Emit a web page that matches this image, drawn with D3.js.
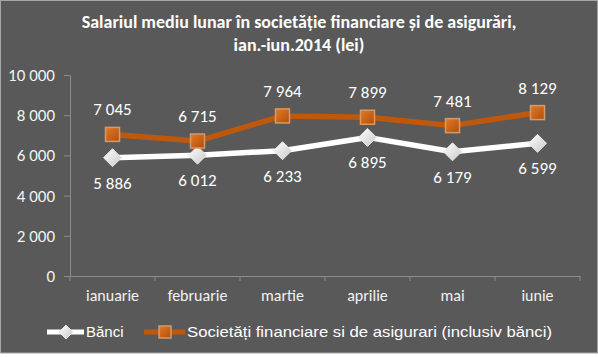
<!DOCTYPE html>
<html><head><meta charset="utf-8">
<script src="https://cdn.jsdelivr.net/npm/d3@7"></script>
<style>html,body{margin:0;padding:0;background:#fff;}svg{display:block;}</style>
</head><body>
<svg id="c" width="598" height="357"></svg>
<script>
const months = ["ianuarie","februarie","martie","aprilie","mai","iunie"];
const banci = [5886, 6012, 6233, 6895, 6179, 6599];
const societati = [7045, 6715, 7964, 7899, 7481, 8129];
const yTicks = [0, 2000, 4000, 6000, 8000, 10000];
const titleLines = ["Salariul mediu lunar în societăție financiare și de asigurări,", "ian.-iun.2014 (lei)"];
const legendNames = ["Bănci", "Societăți financiare si de asigurari (inclusiv bănci)"];

const svg = d3.select("#c");
const font = "Calibri, Carlito, Lato, sans-serif";
const fmt = v => d3.format(",")(v).replace(/,/g, " ");

const defs = svg.append("defs");
const gs = defs.append("linearGradient").attr("id","gsq").attr("x1",0).attr("y1",0).attr("x2",1).attr("y2",1);
gs.append("stop").attr("offset","0%").attr("stop-color","#e07a2a");
gs.append("stop").attr("offset","100%").attr("stop-color","#b24e08");
const gd = defs.append("linearGradient").attr("id","gdi").attr("x1",0).attr("y1",0).attr("x2",1).attr("y2",1);
gd.append("stop").attr("offset","0%").attr("stop-color","#ffffff");
gd.append("stop").attr("offset","100%").attr("stop-color","#c8c8c8");

svg.append("rect").attr("x",0.5).attr("y",0.5).attr("width",597).attr("height",352.5)
  .attr("fill","#595959").attr("stroke","#a6a6a6").attr("stroke-width",1);

const x = d3.scaleBand().domain(months).range([70, 580]);
const y = d3.scaleLinear().domain([0, 10000]).range([276, 75]);

// title
svg.append("g").selectAll("text").data(titleLines).join("text")
  .attr("x", 299).attr("y", (d,i) => 28 + i*23)
  .attr("text-anchor","middle").attr("fill","#ffffff")
  .attr("font-family", font).attr("font-weight","bold").attr("font-size", 18)
  .text(d => d);

// y axis
const yAxis = svg.append("g").attr("transform","translate(70,0)")
  .call(d3.axisLeft(y).tickValues(yTicks).tickSize(6).tickFormat(fmt));
yAxis.select(".domain").attr("stroke","#8c8c8c");
yAxis.selectAll(".tick line").attr("stroke","#8c8c8c");
yAxis.selectAll("text").attr("fill","#f2f2f2").attr("font-family",font).attr("font-size",17).attr("dx",-6);

// x axis
const xAxis = svg.append("g").attr("transform","translate(0,276)")
  .call(d3.axisBottom(x).tickSize(0).tickSizeOuter(0));
xAxis.select(".domain").attr("stroke","#8c8c8c");
xAxis.selectAll(".tick line").remove();
xAxis.selectAll("text").attr("fill","#f2f2f2").attr("font-family",font).attr("font-size",16).attr("dy","1.4em");
svg.append("g").selectAll("line").data(months.concat(["__end"])).join("line")
  .attr("x1",(d,i)=> 70 + i*x.step()).attr("x2",(d,i)=>70 + i*x.step())
  .attr("y1",276).attr("y2",281).attr("stroke","#8c8c8c");

const cx = d => x(d) + x.bandwidth()/2;
const line = d3.line().x((d,i)=>cx(months[i])).y(d=>y(d));

// lines
svg.append("path").datum(banci).attr("d",line).attr("fill","none")
  .attr("stroke","#ffffff").attr("stroke-width",5.5).attr("stroke-linejoin","round");
svg.append("path").datum(societati).attr("d",line).attr("fill","none")
  .attr("stroke","#c0580c").attr("stroke-width",5.5).attr("stroke-linejoin","round");

function diamond(g, px, py, r) {
  g.append("path").attr("d",`M${px},${py-r}L${px+r},${py}L${px},${py+r}L${px-r},${py}Z`)
    .attr("fill","url(#gdi)").attr("stroke","#e6e6e6").attr("stroke-width",1);
}
function square(g, px, py, r) {
  g.append("rect").attr("x",px-r).attr("y",py-r).attr("width",2*r).attr("height",2*r)
    .attr("fill","url(#gsq)").attr("stroke","#d49a6a").attr("stroke-width",1.5);
}
const mk = svg.append("g");
banci.forEach((v,i)=>diamond(mk, cx(months[i]), y(v), 9));
societati.forEach((v,i)=>square(mk, cx(months[i]), y(v), 7));

// labels
svg.append("g").selectAll("text").data(societati).join("text")
  .attr("x",(d,i)=>cx(months[i])).attr("y",d=>y(d)-19)
  .attr("text-anchor","middle").attr("fill","#ffffff").attr("font-family",font).attr("font-size",17)
  .text(fmt);
svg.append("g").selectAll("text").data(banci).join("text")
  .attr("x",(d,i)=>cx(months[i])).attr("y",d=>y(d)+31)
  .attr("text-anchor","middle").attr("fill","#ffffff").attr("font-family",font).attr("font-size",17)
  .text(fmt);

// legend
const lg = svg.append("g");
lg.append("line").attr("x1",47).attr("x2",84).attr("y1",332).attr("y2",332).attr("stroke","#fff").attr("stroke-width",5);
diamond(lg, 66, 332, 7);
lg.append("text").attr("x",86).attr("y",337).attr("fill","#fff").attr("font-family","'Liberation Sans', Arial, sans-serif").attr("font-size",15).text(legendNames[0]);
lg.append("line").attr("x1",144).attr("x2",185).attr("y1",332).attr("y2",332).attr("stroke","#c0580c").attr("stroke-width",5);
square(lg, 165, 332, 6);
lg.append("text").attr("x",187).attr("y",337).attr("fill","#fff").attr("font-family","'Liberation Sans', Arial, sans-serif").attr("font-size",15)
  .attr("textLength",365).attr("lengthAdjust","spacingAndGlyphs").text(legendNames[1]);
</script>
</body></html>
